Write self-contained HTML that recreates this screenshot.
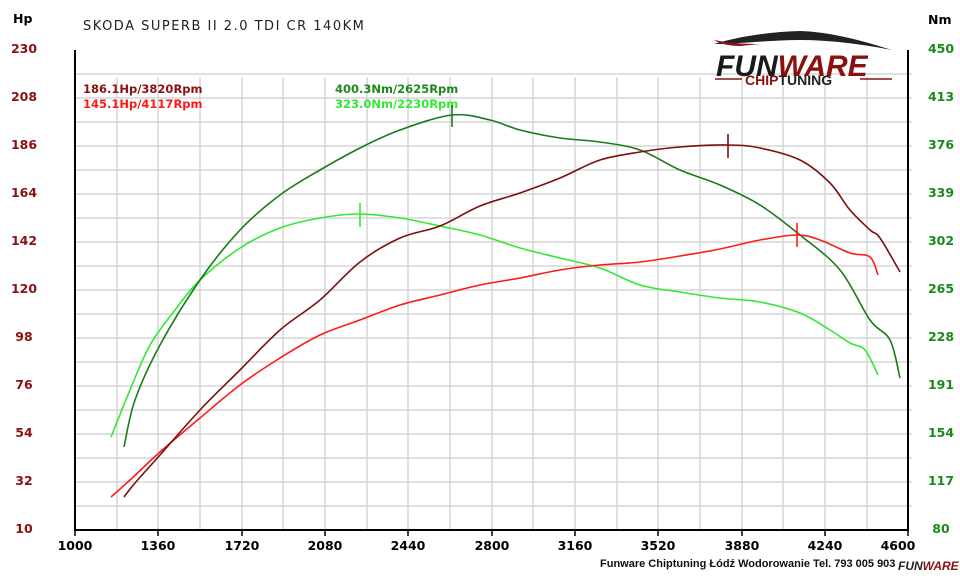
<!DOCTYPE html>
<html><head><meta charset="utf-8"><style>
body{margin:0;background:#fff;width:960px;height:578px;overflow:hidden}
svg text{font-family:"DejaVu Sans","Liberation Sans",sans-serif}
</style></head><body>
<svg id="s" width="960" height="578" viewBox="0 0 960 578" xmlns="http://www.w3.org/2000/svg">
<g stroke="#d6d6d6" stroke-width="1.5">
<path d="M75 74H912M75 98H912M75 122H912M75 146H912M75 170H912M75 194H912M75 218H912M75 242H912M75 266H912M75 290H912M75 314H912M75 338H912M75 362H912M75 386H912M75 410H912M75 434H912M75 458H912M75 482H912M75 506H912"/>
<path d="M117 77V530M158 77V530M200 77V530M242 77V530M283 77V530M325 77V530M367 77V530M408 77V530M450 77V530M492 77V530M533 77V530M575 77V530M617 77V530M658 77V530M700 77V530M742 77V530M783 77V530M825 77V530M867 77V530"/>
</g>
<path d="M75 50V530H908V50" fill="none" stroke="#000" stroke-width="2"/>
<g stroke="#000" stroke-width="1.5"><path d="M75 530v6M158 530v6M242 530v6M325 530v6M408 530v6M492 530v6M575 530v6M658 530v6M742 530v6M825 530v6M908 530v6"/></g>
<g font-size="12.5" font-weight="bold" fill="#000" text-anchor="middle">
<text x="75" y="550">1000</text><text x="158" y="550">1360</text><text x="242" y="550">1720</text><text x="325" y="550">2080</text><text x="408" y="550">2440</text><text x="492" y="550">2800</text><text x="575" y="550">3160</text><text x="658" y="550">3520</text><text x="742" y="550">3880</text><text x="825" y="550">4240</text><text x="898" y="550">4600</text>
</g>
<g font-size="12.5" font-weight="bold" fill="#8b1010" text-anchor="middle">
<text x="24" y="53">230</text><text x="24" y="101">208</text><text x="24" y="149">186</text><text x="24" y="197">164</text><text x="24" y="245">142</text><text x="24" y="293">120</text><text x="24" y="341">98</text><text x="24" y="389">76</text><text x="24" y="437">54</text><text x="24" y="485">32</text><text x="24" y="533">10</text>
</g>
<g font-size="12.5" font-weight="bold" fill="#1a8a1a" text-anchor="middle">
<text x="941" y="53">450</text><text x="941" y="101">413</text><text x="941" y="149">376</text><text x="941" y="197">339</text><text x="941" y="245">302</text><text x="941" y="293">265</text><text x="941" y="341">228</text><text x="941" y="389">191</text><text x="941" y="437">154</text><text x="941" y="485">117</text><text x="941" y="533">80</text>
</g>
<text x="13" y="23" font-size="12.5" font-weight="bold">Hp</text>
<text x="928" y="24" font-size="12.5" font-weight="bold">Nm</text>
<text x="83" y="30" font-size="13" letter-spacing="1.5" fill="#222">SKODA SUPERB II 2.0 TDI CR 140KM</text>
<g font-size="11.5" font-weight="bold">
<text x="83" y="93" fill="#8b1010">186.1Hp/3820Rpm</text>
<text x="83" y="108" fill="#ff1a1a">145.1Hp/4117Rpm</text>
<text x="335" y="93" fill="#1a8a1a">400.3Nm/2625Rpm</text>
<text x="335" y="108" fill="#33e833">323.0Nm/2230Rpm</text>
</g>
<g id="curves" fill="none" stroke-width="1.6" stroke-linejoin="round">
<polyline stroke="#33e833" points="111,437 130,390 150,345 175,310 200,280 240,248 280,228 320,218 359,214 400,218 440,226 480,235 520,248 560,258 600,268 640,285 680,292 720,298 760,302 800,313 830,330 850,343 865,350 878,375"/>
<polyline stroke="#1a7a1a" points="124,447 135,400 160,345 200,280 240,230 280,195 320,170 360,148 400,130 452,115 490,120 520,130 560,138 600,142 640,150 680,170 720,185 760,205 800,235 840,270 870,320 890,340 900,378"/>
<polyline stroke="#ff1a1a" points="111,497 130,480 160,452 200,418 240,385 280,358 320,335 360,320 400,305 440,295 480,285 520,278 560,270 600,265 640,262 680,256 720,249 760,240 797,235 820,240 850,253 870,257 878,275"/>
<polyline stroke="#7a1010" points="124,497 135,483 160,455 200,410 240,370 280,330 320,300 360,262 400,238 440,226 480,206 520,193 560,178 600,160 640,152 680,147 728,145 760,148 800,160 830,183 850,210 870,230 880,238 900,272"/>
</g>
<g stroke-width="1.6"><path d="M728 134v24" stroke="#7a1010"/><path d="M797 223v24" stroke="#ff1a1a"/><path d="M452 105v22" stroke="#1a7a1a"/><path d="M360 203v24" stroke="#33e833"/></g>
<path d="M714 44 C740 36 770 32 800 31 C830 32 860 40 892 50 C860 44 830 40 800 40 C770 40 740 44 714 44Z" fill="#222"/>
<path d="M714 40 C725 42 735 44 760 44 L740 46 C730 46 720 44 714 40Z" fill="#8b1010"/>
<text x="716" y="76" font-size="30" font-weight="bold" font-style="italic" fill="#1a1a1a" style="font-family:'Liberation Sans',sans-serif">FUN<tspan fill="#8b1010">WARE</tspan></text>
<path d="M715 79H742M860 79H892" stroke="#8b1010" stroke-width="1.5"/>
<text x="745" y="85" font-size="14" font-weight="bold" fill="#8b1010" style="font-family:'Liberation Sans',sans-serif">CHIP<tspan fill="#222">TUNING</tspan></text>
<text x="600" y="567" font-size="11" font-weight="bold" fill="#111" style="font-family:'Liberation Sans',sans-serif">Funware Chiptuning Łódź Wodorowanie Tel. 793 005 903</text>
<text x="898" y="570" font-size="12" font-weight="bold" font-style="italic" fill="#222" style="font-family:'Liberation Sans',sans-serif">FUN<tspan fill="#8b1010">WARE</tspan></text>
</svg>
<script>
document.querySelectorAll('#curves polyline').forEach(function(pl){
var p=pl.getAttribute('points').trim().split(/\s+/).map(function(s){return s.split(',').map(Number)});
var d='M'+p[0][0]+' '+p[0][1];
for(var i=0;i<p.length-1;i++){
var p0=p[i-1]||p[i],p1=p[i],p2=p[i+1],p3=p[i+2]||p2;
var c1=[p1[0]+(p2[0]-p0[0])/6,p1[1]+(p2[1]-p0[1])/6],c2=[p2[0]-(p3[0]-p1[0])/6,p2[1]-(p3[1]-p1[1])/6];
d+='C'+c1[0].toFixed(1)+' '+c1[1].toFixed(1)+' '+c2[0].toFixed(1)+' '+c2[1].toFixed(1)+' '+p2[0]+' '+p2[1];}
var path=document.createElementNS('http://www.w3.org/2000/svg','path');
path.setAttribute('d',d);path.setAttribute('stroke',pl.getAttribute('stroke'));
pl.parentNode.replaceChild(path,pl);});
</script>
</body></html>
